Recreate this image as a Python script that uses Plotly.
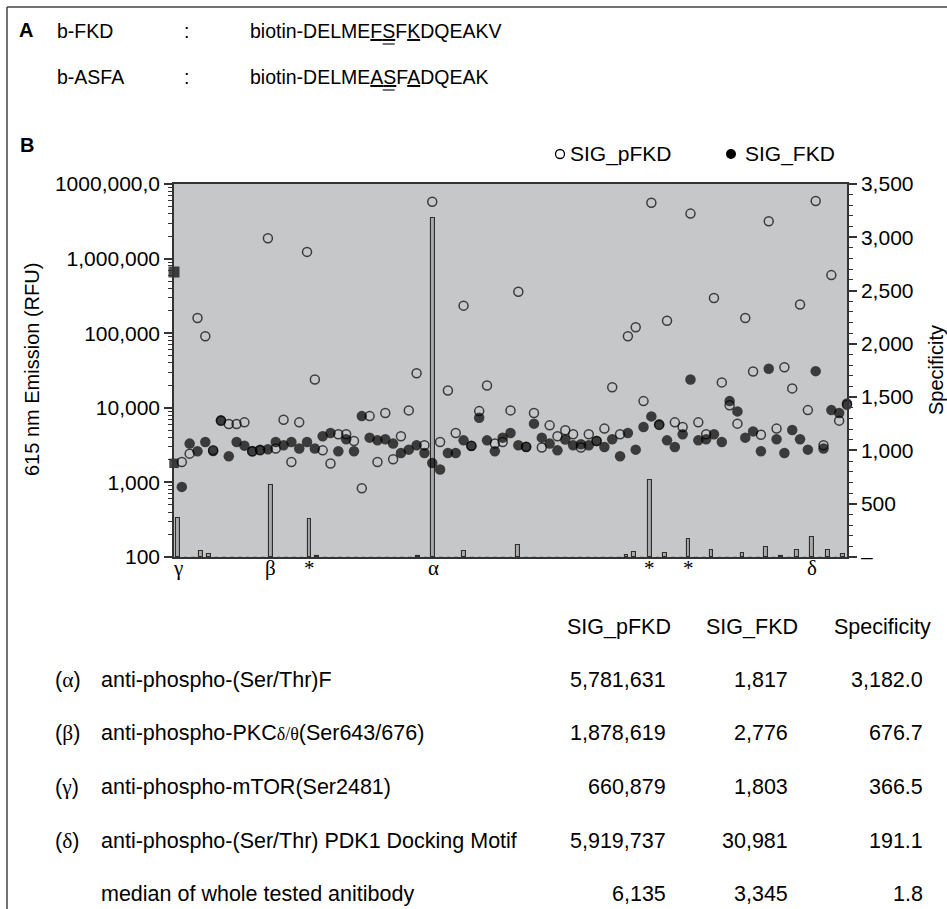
import plotly.graph_objects as go

# ---------------------------------------------------------------- data
# Europium emission at 615 nm (RFU) for each antibody, plate order
sig_pfkd = [
    660879, 1880, 2430, 160000, 91000, 2700, 6700, 6050, 6050, 6380,
    2600, 2700, 1878619, 2840, 6930, 1880, 6380, 1230000, 24000, 2690,
    1790, 4410, 4410, 3590, 836, 7740, 1880, 8500, 2040, 4150,
    9230, 29100, 3140, 5781631, 3480, 17100, 4590, 234000, 3100, 9030,
    19900, 3310, 3480, 9230, 360000, 3000, 8500, 2930, 5820, 4150,
    4990, 4410, 2930, 4410, 3600, 5260, 18900, 4410, 91000, 120000,
    12300, 5620000, 5900, 147000, 6380, 5520, 4010000, 6380, 4410, 296000,
    21900, 10800, 6130, 160000, 30700, 4360, 3170000, 5260, 35000, 18200,
    243000, 9310, 5919737, 3140, 601000, 6730, 11000,
]
sig_fkd = [
    1803, 870, 3310, 2610, 3480, 2640, 6790, 2240, 3480, 3110,
    2640, 2750, 2776, 3480, 3140, 3480, 2840, 3480, 2840, 4150,
    4590, 2610, 3780, 2610, 7740, 3980, 3660, 3780, 3310, 2480,
    2750, 3140, 2480, 1817, 1490, 2480, 2480, 3660, 3070, 7370,
    3660, 2610, 3980, 4590, 3140, 2980, 6130, 3980, 3310, 2690,
    3750, 3140, 3240, 3140, 3590, 2980, 3780, 2240, 4590, 2750,
    5520, 7670, 6000, 3660, 2980, 4410, 24000, 3660, 3780, 4410,
    3480, 12300, 8950, 3980, 4830, 2610, 33300, 3780, 2480, 5040,
    3780, 2750, 30981, 2840, 9310, 8500, 11400,
]
specificity = [
    366.5, 2.2, 0.7, 61, 26, 1.0, 1.0, 2.7, 1.7, 2.1,
    1.0, 1.0, 676.7, 0.8, 2.2, 0.5, 2.2, 354, 8.5, 0.6,
    0.4, 1.7, 1.2, 1.4, 0.1, 1.9, 0.5, 2.2, 0.6, 1.7,
    3.4, 9.3, 1.3, 3182.0, 2.3, 3.5, 1.9, 60, 1.0, 1.2,
    4.5, 1.3, 0.9, 2.0, 115, 1.0, 1.4, 0.7, 1.8, 1.5,
    1.3, 1.4, 0.9, 1.4, 1.0, 1.8, 4.0, 2.0, 18, 44,
    2.2, 725, 1.0, 42, 2.1, 1.3, 170, 1.7, 1.2, 70,
    4.5, 0.9, 0.7, 42, 4.5, 1.7, 98, 1.4, 13, 3.6,
    68, 3.4, 191.1, 1.1, 68, 0.8, 30,
]

# antibodies marked under the x axis
mark_index = [0, 12, 17, 33, 61, 66, 82]
mark_text = ["γ", "β", "*", "α", "*", "*", "δ"]

# summary table: greek tag, antibody index, antibody name
table_tags = ["α", "β", "γ", "δ"]
table_index = [33, 12, 0, 82]
table_names = [
    "anti-phospho-(Ser/Thr)F",
    "anti-phospho-PKC<span style='font-family:Liberation Serif;font-size:18px'>δ/θ</span>(Ser643/676)",
    "anti-phospho-mTOR(Ser2481)",
    "anti-phospho-(Ser/Thr) PDK1 Docking Motif",
]
median_label = "median of whole tested anitibody"
median_values = [6135, 3345, 1.8]
table_header = ["SIG_pFKD", "SIG_FKD", "Specificity"]

# log-axis tick labels as printed
left_tickvals = [1e2, 1e3, 1e4, 1e5, 1e6, 1e7]
left_ticktext = ["100", "1,000", "10,000", "100,000", "1,000,000", "1000,000,0"]
right_tickvals = [0, 500, 1000, 1500, 2000, 2500, 3000, 3500]
right_ticktext = ["–", "500", "1,000", "1,500", "2,000", "2,500", "3,000", "3,500"]

# ---------------------------------------------------------------- layout helpers
W, H = 947, 909
L, R, T, B = 174, 847, 184, 557
INK = "#000000"
SANS = "Liberation Sans, Arial, sans-serif"
SERIF = "Liberation Serif, Times New Roman, serif"
FS = 20
TFS = 21.5  # table text


def px(x):
    return (x - L) / (R - L)


def py(y):
    return (B - y) / (B - T)


n = len(sig_pfkd)
idx = list(range(n))
GAMMA = 0

fig = go.Figure()

# specificity bars (right axis); sub-pixel bars are drawn without an outline
fig.add_trace(go.Bar(
    x=idx, y=specificity, xaxis="x", yaxis="y", width=0.48,
    marker=dict(color="#a9a9a9",
                line=dict(color="#2e2e2e", width=[1.1 if v >= 8 else 0 for v in specificity])),
    showlegend=False, name="Specificity",
))

# SIG_pFKD: open circles
fig.add_trace(go.Scatter(
    x=idx, y=sig_pfkd, xaxis="x2", yaxis="y2", mode="markers",
    cliponaxis=False, showlegend=False, name="SIG_pFKD",
    marker=dict(
        symbol=["square" if i == GAMMA else "circle-open" for i in idx],
        size=[9.5 if i == GAMMA else 9 for i in idx],
        color=INK, line=dict(color=INK, width=1.5),
    ),
))

# SIG_FKD: filled circles
fig.add_trace(go.Scatter(
    x=idx, y=sig_fkd, xaxis="x2", yaxis="y2", mode="markers",
    cliponaxis=False, showlegend=False, name="SIG_FKD",
    marker=dict(
        symbol=["square" if i == GAMMA else "circle" for i in idx],
        size=[9.5 if i == GAMMA else 10.5 for i in idx],
        color=INK, line=dict(width=0),
    ),
))

ann = []


def text(x, y, s, xanchor="left", size=FS, family=SANS, angle=0):
    ann.append(dict(
        x=px(x), y=py(y), xref="paper", yref="paper", text=s,
        showarrow=False, xanchor=xanchor, yanchor="middle", textangle=angle,
        font=dict(family=family, size=size, color=INK),
    ))


def greek(s):
    return f"<span style='font-family:Liberation Serif'>{s}</span>"


# panel A: peptide sequences
SEQ = 19.5
text(17, 30, "<b>A</b>", size=20)
text(55, 31, "b-FKD", size=SEQ)
text(186, 31, ":", xanchor="center", size=SEQ)
text(248, 31, "biotin-DELME<u>F</u><u>S</u>F<u>K</u>DQEAKV", size=SEQ)
text(55, 77, "b-ASFA", size=SEQ)
text(186, 77, ":", xanchor="center", size=SEQ)
text(248, 77, "biotin-DELME<u>A</u><u>S</u>F<u>A</u>DQEAK", size=SEQ)

# panel B label and legend
text(18, 145, "<b>B</b>", size=20)
text(568, 154, "SIG_pFKD", size=21)
text(743, 154, "SIG_FKD", size=21)

# axis titles
text(32, 370, "615 nm Emission (RFU)", xanchor="center", angle=-90)
text(936, 370, "Specificity", xanchor="center", angle=-90)

# category marks under the x axis
for i, s in zip(mark_index, mark_text):
    ann.append(dict(
        x=i, y=py(568), xref="x", yref="paper", text=s, showarrow=False,
        xanchor="center", yanchor="middle",
        font=dict(family=SERIF, size=21, color=INK),
    ))

# summary table
head_right = [673, 800, 933]
col_right = [668, 790, 925]
for h, xr in zip(table_header, head_right):
    text(xr, 627, h, xanchor="right", size=TFS)
row_y = [680, 733, 787, 841]
for tag, i, name, y in zip(table_tags, table_index, table_names, row_y):
    text(53, y, "(" + greek(tag) + ")", size=TFS)
    text(99, y, name, size=TFS)
    text(col_right[0], y, f"{sig_pfkd[i]:,}", xanchor="right", size=TFS)
    text(col_right[1], y, f"{sig_fkd[i]:,}", xanchor="right", size=TFS)
    text(col_right[2], y, f"{specificity[i]:,.1f}", xanchor="right", size=TFS)
median_y = 894
text(99, median_y, median_label, size=TFS)
text(col_right[0], median_y, f"{median_values[0]:,}", xanchor="right", size=TFS)
text(col_right[1], median_y, f"{median_values[1]:,}", xanchor="right", size=TFS)
text(col_right[2], median_y, f"{median_values[2]:,.1f}", xanchor="right", size=TFS)

shapes = [
    # frame of the figure
    dict(type="line", xref="paper", yref="paper", x0=px(7), x1=px(W), y0=py(7), y1=py(7),
         line=dict(color="#444", width=1.5)),
    dict(type="line", xref="paper", yref="paper", x0=px(7), x1=px(7), y0=py(7), y1=py(H),
         line=dict(color="#444", width=1.5)),
    # legend swatches
    dict(type="circle", xref="paper", yref="paper", xsizemode="pixel", ysizemode="pixel",
         xanchor=px(560), yanchor=py(154), x0=-4.5, x1=4.5, y0=-4.5, y1=4.5,
         line=dict(color=INK, width=1.3)),
    dict(type="circle", xref="paper", yref="paper", xsizemode="pixel", ysizemode="pixel",
         xanchor=px(731), yanchor=py(154), x0=-5, x1=5, y0=-5, y1=5,
         line=dict(color=INK, width=0), fillcolor=INK),
]
# second rule under the phospho-serine: "biotin-DELME" + first residue = 6.779 em
s_left = 250 + SEQ * 6.779
s_w = SEQ * 0.667
for row in (31, 77):
    shapes.append(dict(type="line", xref="paper", yref="paper",
                       x0=px(s_left + 0.5), x1=px(s_left + s_w - 0.5),
                       y0=py(row + 13), y1=py(row + 13),
                       line=dict(color=INK, width=1.1)))

minor_log = [m * 10 ** e for e in range(2, 7) for m in range(2, 10)]

fig.update_layout(
    width=W, height=H, autosize=False,
    margin=dict(l=L, r=W - R, t=T, b=H - B, pad=0),
    paper_bgcolor="white", plot_bgcolor="#c6c7c9",
    font=dict(family=SANS, size=FS, color=INK),
    bargap=0,
    xaxis=dict(
        range=[-0.5, n - 0.5], showline=True, mirror=True, linecolor="#333", linewidth=1.5,
        showgrid=False, zeroline=False, ticks="", showticklabels=False,
    ),
    xaxis2=dict(range=[0, n - 1], overlaying="x", visible=False),
    yaxis=dict(
        range=[0, 3500], side="right", showline=True, linecolor="#333", linewidth=1.5,
        showgrid=False, zeroline=False, ticks="outside", ticklen=8, tickwidth=1.5,
        tickcolor="#333", tickmode="array", tickvals=right_tickvals, ticktext=right_ticktext,
        tickfont=dict(size=21),
        minor=dict(ticks="outside", ticklen=4, tickcolor="#333", tickwidth=1, dtick=100),
    ),
    yaxis2=dict(
        type="log", range=[2, 7], overlaying="y", side="left", showline=True,
        linecolor="#333", linewidth=1.5, showgrid=False, zeroline=False,
        ticks="outside", ticklen=8, tickwidth=1.5, tickcolor="#333",
        tickmode="array", tickvals=left_tickvals, ticktext=left_ticktext,
        tickfont=dict(size=21),
        minor=dict(ticks="outside", ticklen=4, tickcolor="#333", tickwidth=1,
                   tickvals=minor_log, showgrid=False),
    ),
    annotations=ann,
    shapes=shapes,
)

fig.write_html("out.html")
